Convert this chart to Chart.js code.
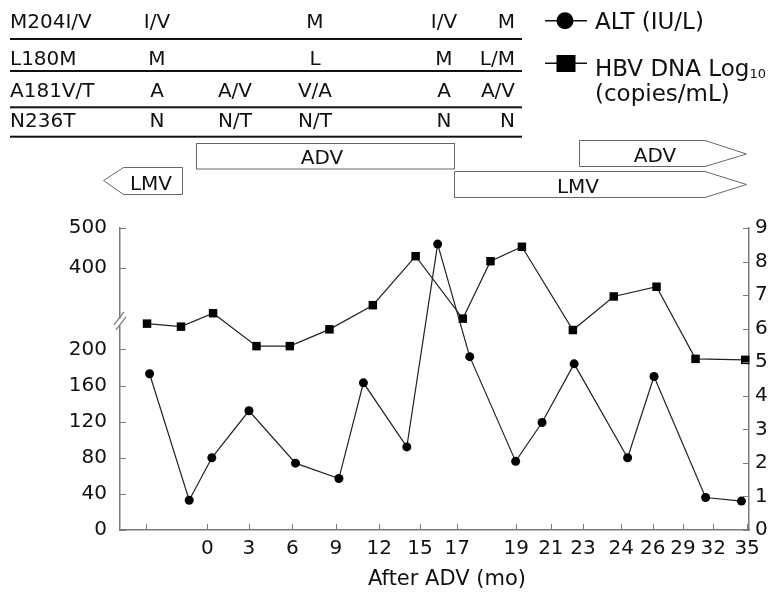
<!DOCTYPE html>
<html>
<head>
<meta charset="utf-8">
<title>ALT and HBV DNA after ADV</title>
<script src="https://cdn.jsdelivr.net/npm/chart.js@4.4.1/dist/chart.umd.min.js"></script>
<style>
    html, body { margin: 0; padding: 0; background: #fff; }
    #wrap { position: relative; width: 779px; height: 599px; overflow: hidden; }
    #chart { position: absolute; left: 0; top: 0; }
    #ann { position: absolute; left: 0; top: 0; font-family: 'DejaVu Sans', sans-serif; fill: #111; }
</style>
</head>
<body>
<div id="wrap">
    <canvas id="chart" width="779" height="599"></canvas>
    <svg id="ann" width="779" height="599" xmlns="http://www.w3.org/2000/svg"></svg>
</div>
<script>
// --- mutation table ---
const mutations = ['M204I/V', 'L180M', 'A181V/T', 'N236T'];
const residuesM204 = ['I/V', '', 'M', 'I/V', 'M'];
const residuesL180 = ['M', '', 'L', 'M', 'L/M'];
const residuesA181 = ['A', 'A/V', 'V/A', 'A', 'A/V'];
const residuesN236 = ['N', 'N/T', 'N/T', 'N', 'N'];

// --- x axis: schematic timeline, 0-100 along the axis ---
const monthLabels  = ['', '0', '3', '6', '9', '12', '15', '17', '19', '21', '23', '24', '26', '29', '32', '35'];
const monthTickPos = [4.2, 13.9, 20.5, 27.4, 34.3, 41.2, 47.7, 53.6, 63.0, 68.5, 73.6, 79.7, 84.7, 89.5, 94.3, 99.7];

// --- ALT (IU/L), left axis ---
const altX      = [4.7, 11.0, 14.6, 20.5, 27.9, 34.8, 38.7, 45.6, 50.5, 55.6, 62.9, 67.1, 72.2, 80.7, 84.9, 93.1, 98.8];
const altValues = [173, 33, 80, 132, 74, 57, 163, 92, 460, 192, 76, 119, 184, 80, 170, 36, 32];

// --- HBV DNA log10 (copies/mL), right axis ---
const hbvX      = [4.3, 9.7, 14.8, 21.7, 27.0, 33.3, 40.2, 47.0, 54.5, 58.9, 63.9, 72.0, 78.5, 85.3, 91.5, 99.4];
const hbvValues = [6.15, 6.06, 6.46, 5.48, 5.48, 5.98, 6.70, 8.16, 6.30, 8.01, 8.44, 5.96, 6.96, 7.25, 5.10, 5.07];

const altTicks = [0, 40, 80, 120, 160, 200, 400, 500];
const hbvTicks = [0, 1, 2, 3, 4, 5, 6, 7, 8, 9];

const AXIS_COLOR = '#7a7a7a';
const LINE_COLOR = '#222';

// broken left axis: 0-200 on the lower part, 400-500 on the top part
function brokenDecimal(v) {
    if (v <= 200) return v / 200 * 0.598;
    if (v >= 400) return 0.867 + (v - 400) / 100 * 0.133;
    return 0.598 + (v - 200) / 200 * (0.867 - 0.598);
}

class BrokenScale extends Chart.LinearScale {
    static id = 'broken';
    static defaults = Chart.LinearScale.defaults;
    getPixelForValue(value) {
        return this.getPixelForDecimal(brokenDecimal(value));
    }
    getValueForPixel(pixel) {
        const d = this.getDecimalForPixel(pixel);
        if (d <= 0.598) return d / 0.598 * 200;
        if (d >= 0.867) return 400 + (d - 0.867) / 0.133 * 100;
        return 200 + (d - 0.598) / (0.867 - 0.598) * 200;
    }
}
Chart.register(BrokenScale);

// inward tick marks + axis break
const axisDecor = {
    id: 'axisDecor',
    afterDraw(chart) {
        const { ctx, chartArea: a, scales } = chart;
        ctx.save();
        ctx.strokeStyle = AXIS_COLOR;
        ctx.lineWidth = 1;
        const seg = (x1, y1, x2, y2) => { ctx.beginPath(); ctx.moveTo(x1, y1); ctx.lineTo(x2, y2); ctx.stroke(); };

        scales.x.ticks.forEach(t => {
            const x = Math.round(scales.x.getPixelForValue(t.value)) + 0.5;
            seg(x, a.bottom, x, a.bottom - 6);
        });
        scales.yAlt.ticks.forEach(t => {
            const y = Math.round(scales.yAlt.getPixelForValue(t.value)) + 0.5;
            seg(a.left, y, a.left + 6, y);
        });
        scales.yHbv.ticks.forEach(t => {
            const y = Math.round(scales.yHbv.getPixelForValue(t.value)) + 0.5;
            seg(a.right - 6, y, a.right, y);
        });

        // break on the left axis
        const yb = scales.yAlt.getPixelForDecimal(0.689);
        ctx.fillStyle = '#fff';
        ctx.fillRect(a.left - 3, yb - 3, 6, 6);
        ctx.lineWidth = 1.2;
        seg(a.left - 6, yb + 3, a.left + 4, yb - 10);
        seg(a.left - 4, yb + 8, a.left + 6, yb - 5);
        ctx.restore();
    }
};

Chart.defaults.font.family = "'DejaVu Sans', sans-serif";
Chart.defaults.font.size = 20;
Chart.defaults.color = '#111';

const ctx = document.getElementById('chart');
new Chart(ctx, {
    type: 'line',
    data: {
        datasets: [
            {
                label: 'ALT (IU/L)',
                data: altX.map((x, i) => ({ x, y: altValues[i] })),
                yAxisID: 'yAlt',
                borderColor: LINE_COLOR,
                borderWidth: 1.2,
                backgroundColor: '#000',
                pointStyle: 'circle',
                pointRadius: 4.5,
                pointBorderWidth: 0,
                tension: 0,
                clip: false
            },
            {
                label: 'HBV DNA Log10 (copies/mL)',
                data: hbvX.map((x, i) => ({ x, y: hbvValues[i] })),
                yAxisID: 'yHbv',
                borderColor: LINE_COLOR,
                borderWidth: 1.2,
                backgroundColor: '#000',
                pointStyle: 'rect',
                pointRadius: 6,
                pointBorderWidth: 0,
                tension: 0,
                clip: false
            }
        ]
    },
    options: {
        responsive: false,
        animation: false,
        layout: { padding: { top: 228, left: 0, right: 0, bottom: 0 } },
        plugins: {
            legend: { display: false },
            tooltip: { enabled: false }
        },
        scales: {
            x: {
                type: 'linear',
                min: 0,
                max: 100,
                grid: { display: false, drawTicks: false },
                border: { display: true, color: AXIS_COLOR, width: 1.5 },
                afterBuildTicks: (scale) => { scale.ticks = monthTickPos.map(v => ({ value: v })); },
                afterFit: (scale) => { scale.height = 69; },
                ticks: {
                    autoSkip: false,
                    maxRotation: 0,
                    padding: 7,
                    callback: (value, index) => monthLabels[index]
                }
            },
            yAlt: {
                type: 'broken',
                position: 'left',
                min: 0,
                max: 500,
                grid: { display: false, drawTicks: false },
                border: { display: true, color: AXIS_COLOR, width: 1.5 },
                afterBuildTicks: (scale) => { scale.ticks = altTicks.map(v => ({ value: v })); },
                afterFit: (scale) => { scale.width = 120; },
                ticks: { padding: 13 }
            },
            yHbv: {
                type: 'linear',
                position: 'right',
                min: 0,
                max: 9,
                grid: { display: false, drawTicks: false },
                border: { display: true, color: AXIS_COLOR, width: 1.5 },
                afterBuildTicks: (scale) => { scale.ticks = hbvTicks.map(v => ({ value: v })); },
                afterFit: (scale) => { scale.width = 30; },
                ticks: { padding: 6 }
            }
        }
    },
    plugins: [axisDecor]
});

// --- annotations: table, therapy arrows, legend, axis title ---
const svg = document.getElementById('ann');
const NS = 'http://www.w3.org/2000/svg';

function add(tag, attrs, text) {
    const el = document.createElementNS(NS, tag);
    for (const k in attrs) el.setAttribute(k, attrs[k]);
    if (text !== undefined) el.textContent = text;
    svg.appendChild(el);
    return el;
}

const rowBaselines = [28.3, 65, 96.7, 126.7];
const ruleY = [38, 70, 106.3, 135.7];
const colX = [157, 235, 315, 444, 515];
const colAnchor = ['middle', 'middle', 'middle', 'middle', 'end'];
const residueRows = [residuesM204, residuesL180, residuesA181, residuesN236];

mutations.forEach((m, r) => {
    add('text', { x: 10, y: rowBaselines[r], 'font-size': 20 }, m);
    residueRows[r].forEach((v, c) => {
        if (v) add('text', { x: colX[c], y: rowBaselines[r], 'font-size': 20, 'text-anchor': colAnchor[c] }, v);
    });
    add('rect', { x: 10, y: ruleY[r], width: 512, height: 2, fill: '#111' });
});

// therapy bars
const arrowStroke = { fill: '#fff', stroke: '#666', 'stroke-width': 1 };
add('polygon', Object.assign({ points: '103.5,180.5 123.5,167.5 182.5,167.5 182.5,194.5 123.5,194.5' }, arrowStroke));
add('text', { x: 151, y: 190, 'font-size': 20, 'text-anchor': 'middle' }, 'LMV');
add('rect', Object.assign({ x: 196.5, y: 143.5, width: 258, height: 25.5 }, arrowStroke));
add('text', { x: 322, y: 164, 'font-size': 20, 'text-anchor': 'middle' }, 'ADV');
add('polygon', Object.assign({ points: '454.5,171.5 705,171.5 746.5,184.5 705,197.5 454.5,197.5' }, arrowStroke));
add('text', { x: 578, y: 193, 'font-size': 20, 'text-anchor': 'middle' }, 'LMV');
add('polygon', Object.assign({ points: '579.5,140.5 705,140.5 746.5,154 705,166.5 579.5,166.5' }, arrowStroke));
add('text', { x: 655, y: 162, 'font-size': 20, 'text-anchor': 'middle' }, 'ADV');

// legend
add('line', { x1: 545, y1: 20.7, x2: 587, y2: 20.7, stroke: '#111', 'stroke-width': 1.5 });
add('circle', { cx: 565, cy: 20.7, r: 8.5, fill: '#000' });
add('text', { x: 595, y: 29, 'font-size': 23 }, 'ALT (IU/L)');
add('line', { x1: 545, y1: 63.3, x2: 587, y2: 63.3, stroke: '#111', 'stroke-width': 1.5 });
add('rect', { x: 556.5, y: 55, width: 19, height: 17, fill: '#000' });
const hbvLabel = add('text', { x: 595, y: 76, 'font-size': 23 }, 'HBV DNA Log');
const sub = document.createElementNS(NS, 'tspan');
sub.setAttribute('font-size', 13);
sub.setAttribute('dy', 2);
sub.textContent = '10';
hbvLabel.appendChild(sub);
add('text', { x: 595, y: 101, 'font-size': 23 }, '(copies/mL)');

// x axis title
add('text', { x: 447, y: 585, 'font-size': 21, 'text-anchor': 'middle' }, 'After ADV (mo)');
</script>
</body>
</html>
